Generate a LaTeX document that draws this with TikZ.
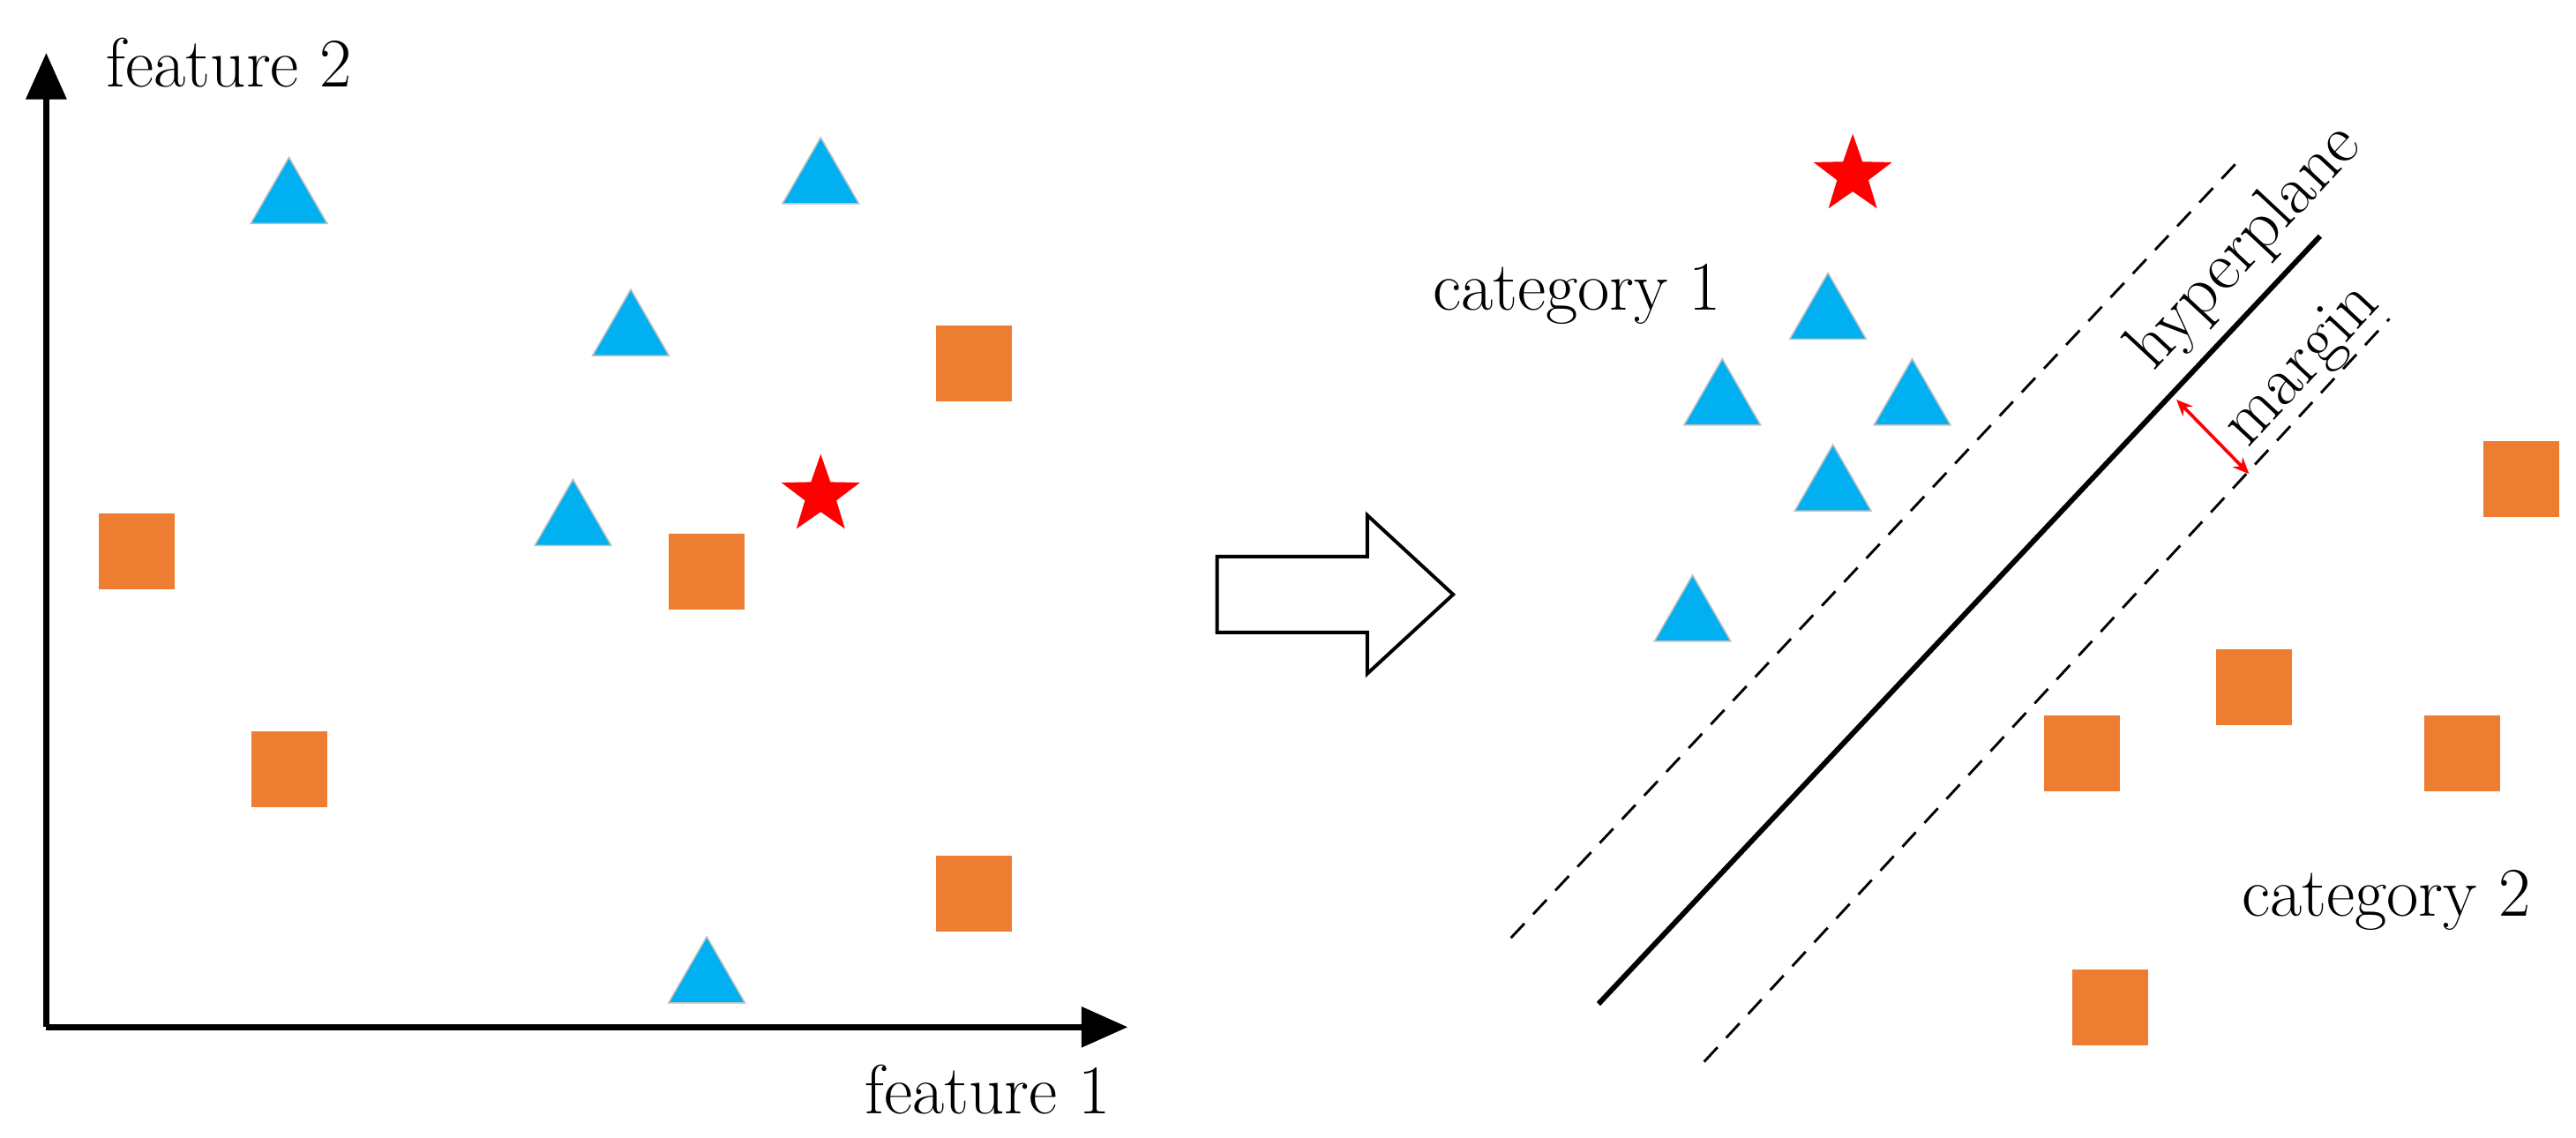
\documentclass[tikz,border=0pt]{standalone}
\usetikzlibrary{shapes.geometric,arrows.meta}
\definecolor{tri}{HTML}{00B0F0}
\definecolor{sq}{HTML}{ED7D31}
\begin{document}
\begin{tikzpicture}[x=0.05cm,y=-0.05cm,
 tri/.style={regular polygon,regular polygon sides=3,fill=tri,draw=gray!50,line width=1.2pt,minimum size=76pt,inner sep=0pt},
 sq/.style={rectangle,fill=sq,minimum size=46*0.05cm,inner sep=0pt},
 st/.style={star,star points=5,star point ratio=2.5,fill=red,minimum size=50*0.05cm,inner sep=0pt},
 lab/.style={font=\fontsize{60}{72}\selectfont},
 ax/.style={line width=5.5pt,-{Triangle[length=40pt,width=34pt]}}]
\useasboundingbox (0,0) rectangle (1560,689);
\coordinate (o) at (28,622);
\coordinate (ya) at (28,32);
\coordinate (xa) at (683,622);
\draw[ax] (o) -- (ya);
\draw[ax] (o) -- (xa);
\node[lab,anchor=west] (f2) at (62,38) {feature 2};
\node[lab,anchor=east] (f1) at (675,660) {feature 1};
\foreach \n/\x/\y in {a/175/122,b/497/110,c/382/202,d/347/317,e/428/594,f/1107/192,g/1043/244,h/1158/244,i/1110/296,j/1025/375}
  \node[tri] (t\n) at (\x,\y) {};
\foreach \n/\x/\y in {a/590/220,b/83/334,c/428/346,d/175/466,e/590/541,f/1527/290,g/1365/416,h/1261/456,i/1491/456,j/1278/610}
  \node[sq] (s\n) at (\x,\y) {};
\node[st] (s1) at (497,300) {};
\node[st] (s2) at (1122,106) {};
\draw[line width=3pt,fill=white] (737,337) -- (828,337) -- (828,312) -- (880,360) -- (828,408) -- (828,383) -- (737,383) -- cycle;
\coordinate (h1) at (968,608); \coordinate (h2) at (1405,143);
\coordinate (u1) at (915,568); \coordinate (u2) at (1355,98);
\coordinate (l1) at (1032,643); \coordinate (l2) at (1447,193);
\draw[line width=4.5pt] (h1) -- (h2);
\draw[line width=2.2pt,dash pattern=on 17pt off 11pt] (u1) -- (u2);
\draw[line width=2.2pt,dash pattern=on 17pt off 11pt] (l1) -- (l2);
\coordinate (m1) at (1318,242); \coordinate (m2) at (1362,287);
\draw[red,line width=2.8pt,{Stealth[length=14pt,width=12pt]}-{Stealth[length=14pt,width=12pt]}] (m1) -- (m2);
\node[lab,rotate=47] (hp) at (1360,150) {hyperplane};
\node[lab,rotate=47] (mg) at (1395,222) {margin};
\node[lab] (c1) at (955,178) {category 1};
\node[lab] (c2) at (1445,545) {category 2};
\end{tikzpicture}
\end{document}
